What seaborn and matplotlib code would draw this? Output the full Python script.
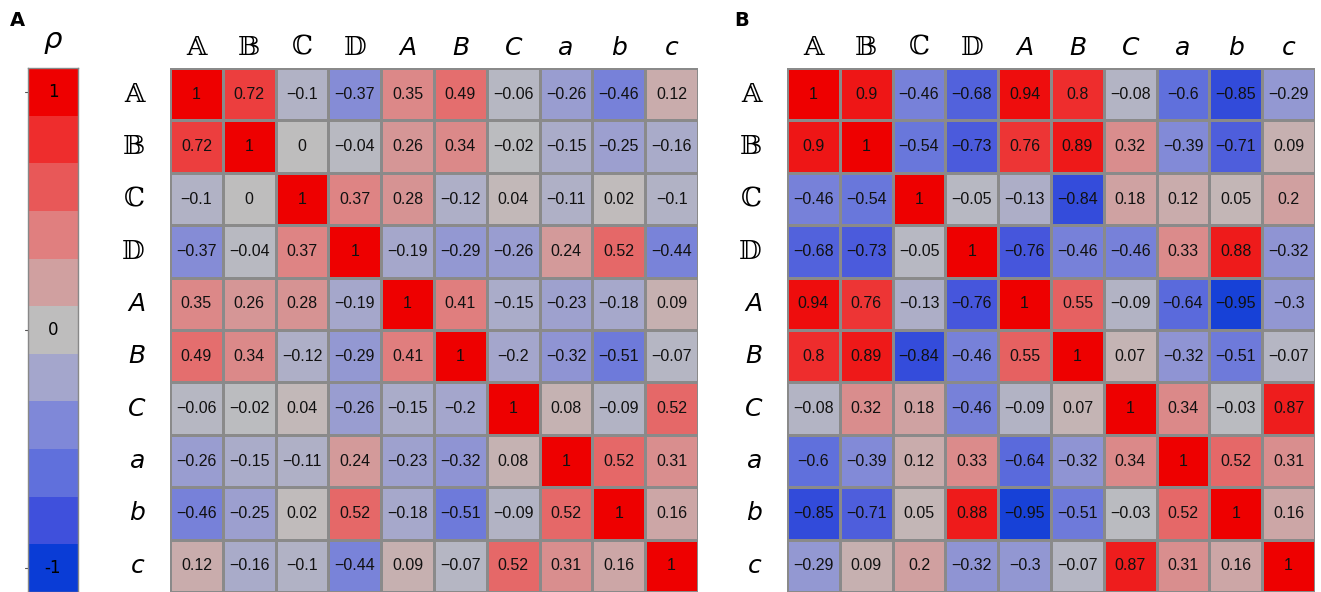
import matplotlib
matplotlib.use("Agg")
import matplotlib.pyplot as plt
import numpy as np
import pandas as pd
import seaborn as sns
from matplotlib.colors import LinearSegmentedColormap

sns.set_style("white")
plt.rcParams['font.family'] = ['Liberation Sans', 'DejaVu Sans']

labels = ['\U0001D538', '\U0001D539', '\u2102', '\U0001D53B',
          'A', 'B', 'C', 'a', 'b', 'c']

corr_a = [
    [1, 0.72, -0.1, -0.37, 0.35, 0.49, -0.06, -0.26, -0.46, 0.12],
    [0.72, 1, 0, -0.04, 0.26, 0.34, -0.02, -0.15, -0.25, -0.16],
    [-0.1, 0, 1, 0.37, 0.28, -0.12, 0.04, -0.11, 0.02, -0.1],
    [-0.37, -0.04, 0.37, 1, -0.19, -0.29, -0.26, 0.24, 0.52, -0.44],
    [0.35, 0.26, 0.28, -0.19, 1, 0.41, -0.15, -0.23, -0.18, 0.09],
    [0.49, 0.34, -0.12, -0.29, 0.41, 1, -0.2, -0.32, -0.51, -0.07],
    [-0.06, -0.02, 0.04, -0.26, -0.15, -0.2, 1, 0.08, -0.09, 0.52],
    [-0.26, -0.15, -0.11, 0.24, -0.23, -0.32, 0.08, 1, 0.52, 0.31],
    [-0.46, -0.25, 0.02, 0.52, -0.18, -0.51, -0.09, 0.52, 1, 0.16],
    [0.12, -0.16, -0.1, -0.44, 0.09, -0.07, 0.52, 0.31, 0.16, 1],
]

corr_b = [
    [1, 0.9, -0.46, -0.68, 0.94, 0.8, -0.08, -0.6, -0.85, -0.29],
    [0.9, 1, -0.54, -0.73, 0.76, 0.89, 0.32, -0.39, -0.71, 0.09],
    [-0.46, -0.54, 1, -0.05, -0.13, -0.84, 0.18, 0.12, 0.05, 0.2],
    [-0.68, -0.73, -0.05, 1, -0.76, -0.46, -0.46, 0.33, 0.88, -0.32],
    [0.94, 0.76, -0.13, -0.76, 1, 0.55, -0.09, -0.64, -0.95, -0.3],
    [0.8, 0.89, -0.84, -0.46, 0.55, 1, 0.07, -0.32, -0.51, -0.07],
    [-0.08, 0.32, 0.18, -0.46, -0.09, 0.07, 1, 0.34, -0.03, 0.87],
    [-0.6, -0.39, 0.12, 0.33, -0.64, -0.32, 0.34, 1, 0.52, 0.31],
    [-0.85, -0.71, 0.05, 0.88, -0.95, -0.51, -0.03, 0.52, 1, 0.16],
    [-0.29, 0.09, 0.2, -0.32, -0.3, -0.07, 0.87, 0.31, 0.16, 1],
]

# discrete legend levels, top to bottom
cbar_levels = [1.0, 0.8, 0.6, 0.4, 0.2, 0.0, -0.2, -0.4, -0.6, -0.8, -1.0]
cbar_ticks = {1.0: '1', 0.0: '0', -1.0: '-1'}

cmap = LinearSegmentedColormap.from_list('rho', [
    (0.0, '#0a3cd6'), (0.1, '#4050dc'), (0.2, '#6070dc'), (0.3, '#8088d8'),
    (0.4, '#a4a6cc'), (0.5, '#bebebe'), (0.6, '#d0a0a0'), (0.7, '#e08080'),
    (0.8, '#e85858'), (0.9, '#ee2e2e'), (1.0, '#ee0000')])


def fmt(v):
    s = '%g' % round(v, 2)
    return s.replace('-', '\u2212')


fig = plt.figure(figsize=(13.21, 5.92), dpi=100)

# colour legend
cax = fig.add_axes([0.0212, 0.0, 0.0378, 0.885])
sns.heatmap(pd.DataFrame({'rho': cbar_levels}), ax=cax, cmap=cmap, vmin=-1, vmax=1,
            cbar=False, xticklabels=False, yticklabels=False)
for i, v in enumerate(cbar_levels):
    if v in cbar_ticks:
        cax.text(0.5, i + 0.5, cbar_ticks[v], ha='center', va='center', fontsize=12,
                 family='DejaVu Sans', color='black')
        cax.plot([-0.06, 0.0], [i + 0.5, i + 0.5], color='#555555', lw=0.8, clip_on=False)
for sp in cax.spines.values():
    sp.set_visible(True)
    sp.set_color('#888888')
    sp.set_linewidth(1.0)
cax.text(0.5, -0.6, '\u03c1', ha='center', va='center', fontsize=21,
         family='DejaVu Sans', style='italic', color='black', clip_on=False)

for data, left in [(corr_a, 0.1287), (corr_b, 0.5958)]:
    ax = fig.add_axes([left, 0.0, 0.3997, 0.885])
    df = pd.DataFrame(data, index=labels, columns=labels)
    annot = df.map(fmt)
    sns.heatmap(df, ax=ax, cmap=cmap, vmin=-1, vmax=1, cbar=False,
                annot=annot, fmt='', annot_kws={'fontsize': 11.5, 'color': '#111111'},
                linewidths=1.0, linecolor='#8a8a8a')
    ax.xaxis.tick_top()
    ax.tick_params(length=0, labelsize=18, pad=6, labelcolor='black')
    ax.tick_params(axis='y', pad=18)
    for t in ax.get_xticklabels() + ax.get_yticklabels():
        t.set_rotation(0)
        if t.get_text() in 'ABCabc':
            t.set_family('DejaVu Sans')
            t.set_style('italic')
        else:
            t.set_family(['DejaVu Serif', 'DejaVu Sans', 'STIXGeneral'])
            t.set_fontsize(19)

fig.text(0.0136, 0.965, 'A', fontsize=14, fontweight='bold', family='DejaVu Sans',
         color='black', ha='center', va='center')
fig.text(0.5617, 0.965, 'B', fontsize=14, fontweight='bold', family='DejaVu Sans',
         color='black', ha='center', va='center')

fig.savefig('out.png', dpi=100)
